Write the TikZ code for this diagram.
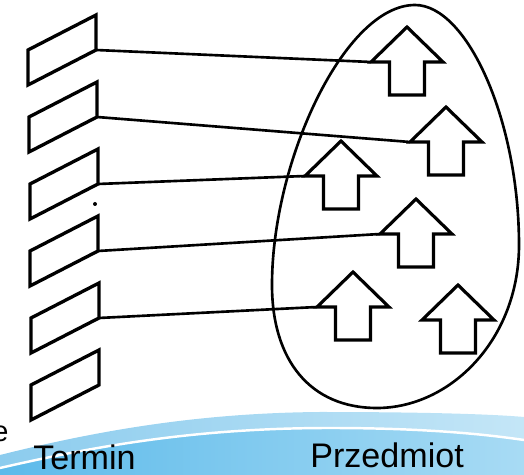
\documentclass[tikz,border=0pt]{standalone}
\usepackage{fontspec}
\setmainfont{Liberation Sans}
\usetikzlibrary{positioning}
\definecolor{bandl}{RGB}{92,186,234}
\definecolor{bandr}{RGB}{168,219,244}
\definecolor{topl}{RGB}{140,204,238}
\definecolor{topr}{RGB}{196,230,247}
\begin{document}
\begin{tikzpicture}[x=0.02cm,y=-0.02cm,line join=miter]
    \useasboundingbox (0,0) rectangle (524,475);

    \tikzset{card/.pic={\draw[line width=1.9pt] (0,0) -- (68,-35) -- (68,0) -- (0,35) -- cycle;
                        \coordinate (-br) at (68,0);}}
    \tikzset{up/.pic={\draw[line width=1.8pt,fill=white] (0,0) -- (36,35) -- (17.5,35) -- (17.5,68)
                        -- (-17.5,68) -- (-17.5,35) -- (-36,35) -- cycle;
                        \coordinate (-hl) at (-36,35);}}
    \tikzset{link/.style={line width=1.5pt}}
    \tikzset{label/.style={anchor=base west,inner sep=0pt,font=\fontsize{19.4}{22}\selectfont}}

    % bottom band
    \shade[left color=topl,right color=topr] (0,455) .. controls (100,430) and (200,413) .. (320,412)
      .. controls (420,412) and (490,414) .. (524,417) -- (524,475) -- (0,475) -- cycle;
    \shade[left color=bandl,right color=bandr] (0,468) .. controls (100,445) and (200,428) .. (330,428)
      .. controls (430,428) and (490,435) .. (524,440) -- (524,475) -- (0,475) -- cycle;
    \draw[white,line width=1.4pt] (0,468) .. controls (100,445) and (200,428) .. (330,428)
      .. controls (430,428) and (490,435) .. (524,440);

    % egg
    \draw[line width=1.5pt] (415,5) .. controls (467,5) and (519,120) .. (519,245)
      .. controls (519,340) and (450,408) .. (377,408)
      .. controls (310,408) and (272,360) .. (272,285)
      .. controls (272,160) and (345,5) .. cycle;

    \foreach \i/\x/\y in {1/28/50,2/29/117,3/30/184,4/30/251,5/31/318,6/31/385}
      \pic (c\i) at (\x,\y) {card};

    \foreach \i/\x/\y in {1/407/27,2/446/107,3/341/141,4/416/199,5/353/272,6/458/285}
      \pic (a\i) at (\x,\y) {up};

    \foreach \i in {1,...,5}
      \draw[link] (c\i-br) -- (a\i-hl);

    \fill (95,204) circle (2);

    \node[label] (termin) at (33,470) {Termin};
    \node[label] (przedmiot) at (310,468) {Przedmiot};
    \node[anchor=base west,inner sep=0pt,font=\fontsize{16.5}{18}\selectfont] (e) at (-8,442) {e};
\end{tikzpicture}
\end{document}
